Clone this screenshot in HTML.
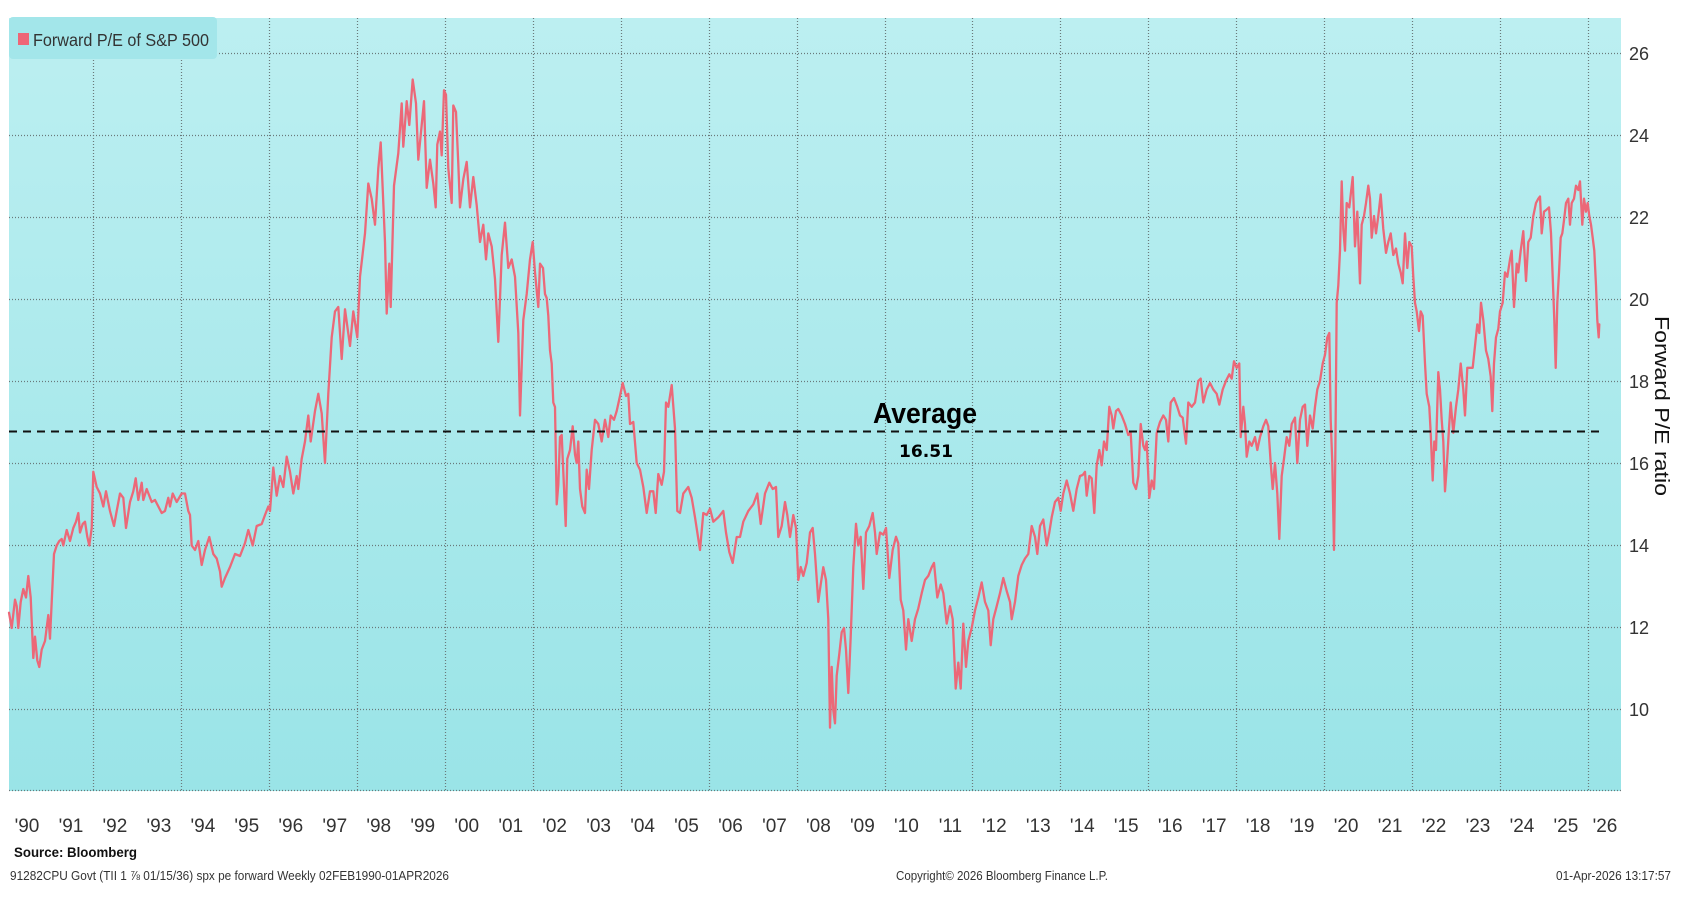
<!DOCTYPE html>
<html>
<head>
<meta charset="utf-8">
<style>
html,body{margin:0;padding:0;background:#fff;}
svg{display:block;}
text{font-family:"Liberation Sans",Arial,sans-serif;}
</style>
</head>
<body>
<svg width="1682" height="902" viewBox="0 0 1682 902" xmlns="http://www.w3.org/2000/svg">
<defs>
<linearGradient id="bg" x1="0" y1="0" x2="0" y2="1">
<stop offset="0" stop-color="#bceff1"/>
<stop offset="1" stop-color="#9ae4e7"/>
</linearGradient>
</defs>
<rect x="0" y="0" width="1682" height="902" fill="#ffffff"/>
<rect x="9" y="18" width="1612" height="773" fill="url(#bg)"/>

<!-- horizontal grid -->
<g stroke="#6a7a7b" stroke-width="1.2" stroke-dasharray="1,2" fill="none">
<line x1="9" y1="53.5" x2="1621" y2="53.5"/>
<line x1="9" y1="135.5" x2="1621" y2="135.5"/>
<line x1="9" y1="217.5" x2="1621" y2="217.5"/>
<line x1="9" y1="299.5" x2="1621" y2="299.5"/>
<line x1="9" y1="381.5" x2="1621" y2="381.5"/>
<line x1="9" y1="463.5" x2="1621" y2="463.5"/>
<line x1="9" y1="545.5" x2="1621" y2="545.5"/>
<line x1="9" y1="627.5" x2="1621" y2="627.5"/>
<line x1="9" y1="709.5" x2="1621" y2="709.5"/>
<line x1="9" y1="790.5" x2="1621" y2="790.5"/>
</g>
<!-- vertical grid -->
<g stroke="#6a7a7b" stroke-width="1.2" stroke-dasharray="1,2" fill="none">
<line x1="93.5" y1="18" x2="93.5" y2="791"/>
<line x1="181.5" y1="18" x2="181.5" y2="791"/>
<line x1="269.5" y1="18" x2="269.5" y2="791"/>
<line x1="357.5" y1="18" x2="357.5" y2="791"/>
<line x1="445.5" y1="18" x2="445.5" y2="791"/>
<line x1="533.5" y1="18" x2="533.5" y2="791"/>
<line x1="621.5" y1="18" x2="621.5" y2="791"/>
<line x1="709.5" y1="18" x2="709.5" y2="791"/>
<line x1="797.5" y1="18" x2="797.5" y2="791"/>
<line x1="885.5" y1="18" x2="885.5" y2="791"/>
<line x1="972.5" y1="18" x2="972.5" y2="791"/>
<line x1="1060.5" y1="18" x2="1060.5" y2="791"/>
<line x1="1148.5" y1="18" x2="1148.5" y2="791"/>
<line x1="1236.5" y1="18" x2="1236.5" y2="791"/>
<line x1="1324.5" y1="18" x2="1324.5" y2="791"/>
<line x1="1412.5" y1="18" x2="1412.5" y2="791"/>
<line x1="1500.5" y1="18" x2="1500.5" y2="791"/>
<line x1="1588.5" y1="18" x2="1588.5" y2="791"/>
</g>

<!-- legend -->
<rect x="9" y="17" width="208" height="42" rx="4" ry="4" fill="#a3e6ea"/>
<rect x="18" y="33" width="11" height="12" fill="#ee6677"/>
<text x="33" y="46" font-size="17.5" fill="#333" textLength="176" lengthAdjust="spacingAndGlyphs">Forward P/E of S&amp;P 500</text>

<!-- series -->
<polyline fill="none" stroke="#ec6878" stroke-width="2.3" stroke-linejoin="round" stroke-linecap="round" points="
9,612.7 11.7,628 15,599.7 16.7,606 18.3,628 20.7,602 23.3,589 26,597.5 28.3,576 30.7,597.5 33.3,658 35,636.6 37.3,660.4 39.3,667 41.7,649.6 45,641 48.3,615 50,638.7 51.7,602 54,554 56.7,545.5 59.3,541 61.7,539 63.3,545.5 66.7,530 70,541 73.3,528 76,521.7 78.3,513 80,532.5 82.7,524 85,521.7 87.3,536.8 89.3,545.5 91.7,528 93.3,471.8 96.7,487 100,493.5 103.3,506.5 106,491.3 110,511 114,526 116.7,511 120,493.5 123.3,497.8 126,528 130,502 133.3,491.3 135.7,478.3 138.3,500 141.7,482.7 143.3,500 146.7,489 151.7,502 155,500 161.7,513 165,511 168.3,497.8 170,506.5 172.7,493.5 176.7,502 181.7,493.5 185,493.5 188.3,511 190,515 191.7,545.5 195,550 198.3,541 201.7,565 205,550 209.3,537 213.3,554 216.7,558.5 220,571.5 221.7,586.7 225,578 230,567 235,554 240,556 245,543 248.3,530 252.7,545.5 256.7,526 261.7,524 265,515 268.3,506.5 270,511
273.3,467.5 276.7,495.7 280,476 283.3,487 286.7,456.7 290,471.8 293.3,493.5 296.7,476 298.3,489 301.7,458.8 305,441.5 308.3,415.5 310.7,441.5 315,411 318.3,393.8 321.7,413.3 325,463 328.3,393.8 331.7,337.4 335,311.4 338.3,307 341.7,359 345,309.3 350,346 353.3,311.4 357.3,337.4 360,276.8 365,233.4 368.3,183.5 371.7,198.7 375,224.7 378.3,168.4 380.7,142.4 385,242 386.7,313.6 389.3,263.7 390.7,307 394,185.7 398.3,153.2 401.7,103.4 403.3,146.7 406.7,101.2 409.3,125 412.7,79.5 416,103.4 418.3,159.7 421.7,125 424,101.2 426.7,187.9 430,159.7 433.3,183.5 435.7,207.4 437.3,144.5 440,131.5 441.7,155.4 444,90.3 446,94.7 448.3,168.4 451.7,203 453.3,105.5 456,112 458.3,164 460,207.4 463.3,179.2 466.7,161.9 470,207.4 473.3,177 476.7,205.2 480,242 483.3,224.7 486,259.4 488.3,233.4 491.7,246.4 495,279 498.3,341.8 501.7,255 505,222.6 508.3,268 511.7,259.4 515,276.8 518.3,333 520,415.5 523.3,320 526.7,294 530,259.4 532.7,242 535,272.4 538.3,307
540,263.7 543,268 545,294 546.7,298 548.3,315.8 550,350.4 551.7,363.5 553.3,402.5 555,407 556.7,504.3 558.3,484.8 560,437 561.7,435 563.3,471.8 565.7,526 567.3,458.8 570,450 572.7,426.3 575,454.5 576.7,463 578.3,441.5 580,489 582.3,506.5 585,513 586.7,469.7 589,489 591.7,450 595,419.8 598.3,424 601.7,441.5 605,419.8 608.3,437 610.7,415.5 614,419.8 616.7,411 620,396 622.7,383 626,396 628.3,393.8 630,424 633.3,422 636.7,463 640,469.7 643.3,487 646.7,513 650,491.3 653.3,491.3 655.7,513 658.3,474 661.7,484.8 664,471.8 666,402.5 668.3,406.8 671.7,385 675,428.5 677.3,511 680,513 683.3,493.5 688.3,487 691.7,497.8 695,517.3 700,550 703.3,513 706.7,515 710,508.7 713.3,521.7 718.3,517.3 723.3,511 726,532.5 729.3,552 732.7,562.9 736.7,537 740,537 743.3,521.7 748.3,511 753.3,504.3 757.3,493.5 760.7,524 765,493.5 769.3,482.7 772.7,489 776,487 778.3,537 781.7,526 785,502 787.3,515 790,537 793.3,515 796,528 798.3,580 800.7,567 803.3,575.9 806.7,563
810,532.5 812.7,528 815,554 818.3,601.9 820.7,584.5 823.3,567.2 826,580 828.3,619.2 830,727.6 831.7,666.9 833.3,710.3 835,723.3 836.7,675.6 839.3,653.9 841.7,632.2 844,628 846,649.6 848.3,693 850.7,636.6 853.3,567.2 856,523.8 858.3,545.5 860.7,536.8 863.3,588.9 866,532.5 869.3,526 872.7,513 875,532.5 876.7,554 880,532.5 883.3,534.7 886,528 889.3,578 892.7,549.8 896,536.8 898.3,543.4 900.7,599.7 903.3,610.5 906,649.6 908.3,619.2 911.7,641 915,619.2 918.3,608.4 921.7,593.2 925,580 928.3,575.9 931.7,567.2 934,562.9 937.3,597.5 940.7,584.5 943.3,593.2 946.7,623.6 950,606.2 952.7,619.2 955.7,688.6 958.3,662.6 960.7,688.6 963.3,623.6 966,666.9 968.3,640.9 971.7,627.9 975,610.5 978.3,597.5 981.7,582.4 985,601.9 988.3,610.5 990.7,645.2 993.3,619.2 996.7,606.2 1000,593.2 1003.3,578 1006.7,591 1010,601.9 1011.7,619.2 1015,601.9 1018.3,575.9 1021.7,565 1025,558.5 1028.3,554 1031.7,526 1035,536.8 1037.3,554 1040,526 1043.3,519.5 1046.7,545.5 1049.3,532.5 1051.7,517.3 1055,502 1058.3,497.8 1060.7,510.8 1063.3,493.5 1066.7,480.5 1070,493.5 1073.3,510.8 1076.7,489
1080,476 1082.7,475 1085,471.8 1086.7,495.7 1089.3,476 1091.7,478.3 1094.3,513 1096.7,465.3 1099.3,450 1101.7,465.3 1104,441.5 1106.7,450 1109.3,406.8 1111.7,415.5 1113.3,428.5 1116,411 1118.3,409 1121.7,415.5 1125,424 1128.3,435 1130.7,432.8 1133.3,482.7 1136,489 1138.3,476 1140.7,424 1143.3,445.8 1145,450 1146.7,441.5 1149.3,497.8 1151.7,480.5 1154,489 1156.7,432.8 1160,422 1163.3,415.5 1166,419.8 1168.3,441.5 1170.7,402.5 1174,398.1 1177.3,406.8 1180,415.5 1182.7,417.6 1186,443.7 1188.3,402.5 1191.7,406.8 1195,402.5 1198.3,380.8 1200.7,378.6 1203.3,402.5 1206.7,389.5 1210,383 1213.3,389.5 1216.7,393.8 1219.3,404.6 1222.7,389.5 1226,380.8 1229.3,374.3 1231.7,378.6 1234,361.3 1236.7,367.8 1239.3,363.5 1240.7,437.1 1243.3,406.8 1245,424 1246.7,456.7 1249.3,441.5 1251.7,445.8 1255,437.1 1257.3,450 1260,437.1 1263.3,426.3 1266,419.8 1268.3,426.3 1270.7,463 1272.7,489 1275,463 1277.3,493.5 1279.3,539 1281.7,476 1284,458.8 1286.7,437.1 1289.3,445.8 1291.7,424 1295,417.6 1297.3,463 1300,419.8 1302.7,406.8 1305,404.6 1307.3,445.8 1310,415.5 1312.7,428.5 1315,406.8 1317.3,389.5 1320,380.8 1322.7,363.5 1325,354.8 1327.3,337.4 1329.3,333 1330.7,419.8 1332.3,463 1334,549.8 1335.3,458.8 1336.7,302.8 1338.3,285.4 1340,250.7 1341.7,181.4 1343.3,229 1345,250.7 1346.7,203 1349.3,207.4
1352.7,177 1355,246.4 1357.3,211.7 1360,283.3 1361.7,224.7 1364,216 1366,203 1368.3,185.7 1370,198.7 1371.7,237.7 1374,216 1376,233.4 1378.3,216 1380.7,194.4 1383.3,229 1386,252.9 1388.3,242 1390.7,233.4 1393.3,255 1396,248.6 1398.3,263.7 1400.7,272.4 1402.7,283.3 1405,233.4 1407.3,268 1409.3,242 1411.7,246.4 1413.3,276.8 1415,302.8 1416.7,311.4 1419,331 1420.7,311.4 1422.7,315.8 1425,363.5 1426.7,393.8 1429.3,406.8 1430.7,432.8 1432.7,480.5 1434.3,441.5 1436,450 1438.3,372.1 1440,389.5 1441.7,419.8 1443.3,441.5 1445,491.3 1446.7,467.5 1449,428.5 1450.7,402.5 1453.3,432.8 1456,406.8 1458.3,389.5 1460.7,363.5 1463.3,389.5 1465,415.5 1467.3,367.8 1470,367.8 1472.7,367.8 1475,346 1477.3,324.4 1479.3,333 1481,302.8 1483.3,320 1486,350.4 1488.3,359.1 1490.7,376.5 1492.3,411.1 1494,363.5 1496,337.4 1498.3,328.8 1500,311.4 1502.7,302.8 1505,272.4 1507.3,276.8 1510,259.4 1511.7,250.7 1514,307 1516.7,263.7 1518.3,272.4 1520.7,250.7 1523.3,231.2 1526,281 1528.3,242 1530.7,237.7 1533.3,216 1536,203 1538.3,198.7 1540,196.5 1541.7,233.4 1544,211.7 1546.7,209.6 1549,207.4 1551,233.4 1552.7,276.8 1554.3,320 1555.7,367.8 1557.3,302.8 1559,272.4 1560.7,237.7 1562.3,233.4 1564,220.4 1566,203 1568.3,198.7 1570,224.7 1571.7,203 1574,198.7 1576,185.7 1578.3,190 1580,181.4 1582.3,224.7 1584,198.7 1586,211.7 1587.7,203 1589.3,216 1591,224.7 1592.7,237.7 1594.3,250.7 1596,285.4 1597.3,320 1598.7,337.4 1599.3,324.4"/>

<!-- average line -->
<line x1="9" y1="431.5" x2="1600" y2="431.5" stroke="#111" stroke-width="2" stroke-dasharray="8,6"/>
<text x="873" y="423" font-size="29" font-weight="bold" fill="#000" textLength="104" lengthAdjust="spacingAndGlyphs">Average</text>
<text x="899" y="457" font-size="17" font-weight="bold" fill="#000" style="font-family:'DejaVu Sans',sans-serif" textLength="54" lengthAdjust="spacingAndGlyphs">16.51</text>

<!-- right axis labels -->
<g font-size="18" fill="#333">
<text x="1629" y="60">26</text>
<text x="1629" y="142">24</text>
<text x="1629" y="224">22</text>
<text x="1629" y="306">20</text>
<text x="1629" y="388">18</text>
<text x="1629" y="470">16</text>
<text x="1629" y="552">14</text>
<text x="1629" y="634">12</text>
<text x="1629" y="716">10</text>
</g>
<text transform="translate(1655,406) rotate(90)" text-anchor="middle" font-size="20" fill="#111" textLength="180" lengthAdjust="spacingAndGlyphs">Forward P/E ratio</text>

<!-- x axis labels -->
<g font-size="19" fill="#333" text-anchor="middle">
<text x="27" y="832">'90</text>
<text x="71" y="832">'91</text>
<text x="114.9" y="832">'92</text>
<text x="158.9" y="832">'93</text>
<text x="202.9" y="832">'94</text>
<text x="246.8" y="832">'95</text>
<text x="290.8" y="832">'96</text>
<text x="334.8" y="832">'97</text>
<text x="378.7" y="832">'98</text>
<text x="422.7" y="832">'99</text>
<text x="466.7" y="832">'00</text>
<text x="510.7" y="832">'01</text>
<text x="554.6" y="832">'02</text>
<text x="598.6" y="832">'03</text>
<text x="642.6" y="832">'04</text>
<text x="686.5" y="832">'05</text>
<text x="730.5" y="832">'06</text>
<text x="774.5" y="832">'07</text>
<text x="818.4" y="832">'08</text>
<text x="862.4" y="832">'09</text>
<text x="906.4" y="832">'10</text>
<text x="950.4" y="832">'11</text>
<text x="994.3" y="832">'12</text>
<text x="1038.3" y="832">'13</text>
<text x="1082.3" y="832">'14</text>
<text x="1126.2" y="832">'15</text>
<text x="1170.2" y="832">'16</text>
<text x="1214.2" y="832">'17</text>
<text x="1258.1" y="832">'18</text>
<text x="1302.1" y="832">'19</text>
<text x="1346.1" y="832">'20</text>
<text x="1390.1" y="832">'21</text>
<text x="1434" y="832">'22</text>
<text x="1478" y="832">'23</text>
<text x="1522" y="832">'24</text>
<text x="1565.9" y="832">'25</text>
<text x="1605" y="832">'26</text>
</g>

<!-- footer -->
<text x="14" y="857" font-size="14" font-weight="bold" fill="#111" textLength="123" lengthAdjust="spacingAndGlyphs">Source:  Bloomberg</text>
<text x="10" y="880" font-size="13" fill="#333" textLength="439" lengthAdjust="spacingAndGlyphs">91282CPU Govt (TII 1 ⅞ 01/15/36) spx pe forward Weekly 02FEB1990-01APR2026</text>
<text x="896" y="880" font-size="13" fill="#333" textLength="212" lengthAdjust="spacingAndGlyphs">Copyright© 2026 Bloomberg Finance L.P.</text>
<text x="1556" y="880" font-size="13" fill="#333" textLength="115" lengthAdjust="spacingAndGlyphs">01-Apr-2026 13:17:57</text>
</svg>
</body>
</html>
